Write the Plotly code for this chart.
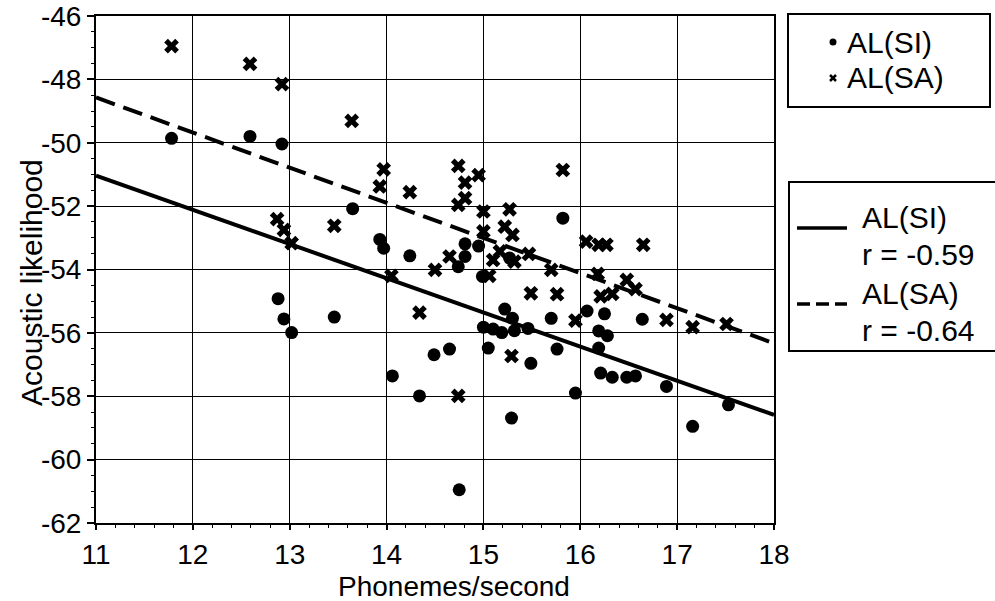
import plotly.graph_objects as go

# Acoustic likelihood vs. speaking rate, two conditions
si_rate = [11.78, 12.59, 12.92, 13.65, 12.88, 12.94, 13.02, 13.46, 13.93, 13.97,
           14.24, 14.81, 14.95, 14.81, 14.74, 15.27, 14.99, 15.82, 15.22, 15.30,
           15.70, 16.07, 15.00, 15.10, 15.19, 15.32, 15.46, 15.05, 15.49, 15.76,
           14.65, 14.49, 14.06, 14.34, 15.95, 15.29, 14.75, 16.25, 16.64, 16.19,
           16.28, 16.19, 16.21, 16.33, 16.48, 16.57, 16.89, 17.53, 17.16]
si_al = [-49.86, -49.80, -50.04, -52.08, -54.92, -55.56, -55.99, -55.50, -53.05, -53.33,
         -53.57, -53.19, -53.26, -53.59, -53.91, -53.64, -54.22, -52.38, -55.25, -55.54,
         -55.54, -55.31, -55.82, -55.88, -55.99, -55.93, -55.86, -56.48, -56.96, -56.51,
         -56.51, -56.69, -57.36, -57.99, -57.90, -58.69, -60.95, -55.40, -55.57, -55.94,
         -56.09, -56.48, -57.27, -57.40, -57.40, -57.36, -57.69, -58.27, -58.95]

sa_rate = [11.78, 12.59, 12.92, 13.64, 12.87, 12.94, 13.02, 13.46, 13.97, 13.93,
           14.24, 14.74, 14.81, 14.95, 14.81, 14.74, 15.00, 15.27, 15.22, 15.30,
           15.00, 15.82, 14.65, 14.50, 14.05, 15.10, 15.17, 15.32, 15.47, 15.70,
           16.06, 15.06, 15.49, 15.76, 14.34, 15.95, 15.29, 14.74, 16.19, 16.27,
           16.65, 16.18, 16.48, 16.57, 16.21, 16.33, 16.89, 17.16, 17.51]
sa_al = [-46.95, -47.51, -48.15, -49.31, -52.41, -52.75, -53.17, -52.62, -50.84, -51.38,
         -51.56, -50.73, -51.26, -51.02, -51.75, -51.96, -52.17, -52.10, -52.65, -52.91,
         -52.80, -50.86, -53.59, -54.01, -54.20, -53.70, -53.43, -53.75, -53.51, -54.01,
         -53.12, -54.20, -54.75, -54.78, -55.36, -55.61, -56.73, -57.99, -53.22, -53.22,
         -53.22, -54.14, -54.33, -54.62, -54.85, -54.77, -55.59, -55.82, -55.72]

# Regression lines (end points over the x range)
fit_rate = [11, 18]
fit_si = [-51.04, -58.59]
fit_sa = [-48.57, -56.33]

# Tick labels (plain hyphen for negatives)
x_ticks = [11, 12, 13, 14, 15, 16, 17, 18]
x_labels = ["11", "12", "13", "14", "15", "16", "17", "18"]
y_ticks = [-62, -60, -58, -56, -54, -52, -50, -48, -46]
y_labels = ["-62", "-60", "-58", "-56", "-54", "-52", "-50", "-48", "-46"]

x_title = "Phonemes/second"
y_title = "Acoustic likelihood"
legend_points = ["AL(SI)", "AL(SA)"]
legend_fits = [("AL(SI)", "r = -0.59"), ("AL(SA)", "r = -0.64")]

FONT = "Liberation Sans, Arial, sans-serif"
W, H = 995, 601
ML, MR, MT, MB = 96, 221, 16, 78
PW, PH = W - ML - MR, H - MT - MB


def px(x):
    return (x - ML) / PW


def py(y):
    return (H - MB - y) / PH


fig = go.Figure()

fig.add_trace(go.Scatter(x=fit_rate, y=fit_si, mode="lines",
                         line=dict(color="black", width=4), showlegend=False))
fig.add_trace(go.Scatter(x=fit_rate, y=fit_sa, mode="lines",
                         line=dict(color="black", width=4, dash="20px,9px"),
                         showlegend=False))
fig.add_trace(go.Scatter(x=si_rate, y=si_al, mode="markers",
                         marker=dict(symbol="circle", size=13, color="black"),
                         showlegend=False))
fig.add_trace(go.Scatter(x=sa_rate, y=sa_al, mode="markers",
                         marker=dict(symbol="x", size=13, color="black"),
                         showlegend=False))

axis_common = dict(
    showline=True, linecolor="black", linewidth=2, mirror=True,
    ticks="outside", tickwidth=1.5, tickcolor="black",
    showgrid=True, gridcolor="black", gridwidth=1.3, zeroline=False,
    automargin=False,
)

fig.update_xaxes(range=[11, 18], tickmode="array", tickvals=x_ticks, ticktext=x_labels,
                 ticklen=5,
                 tickfont=dict(family=FONT, size=28, color="black"),
                 minor=dict(dtick=0.2, tick0=11, ticks="outside", ticklen=3,
                            tickcolor="black", tickwidth=1, showgrid=False),
                 **axis_common)
fig.update_yaxes(range=[-62, -46], tickmode="array", tickvals=y_ticks, ticktext=y_labels,
                 ticklen=7,
                 tickfont=dict(family=FONT, size=28, color="black"),
                 minor=dict(dtick=0.5, tick0=-62, ticks="outside", ticklen=3,
                            tickcolor="black", tickwidth=1, showgrid=False),
                 **axis_common)

shapes = []
text_font = dict(family=FONT, size=30, color="black")
annotations = [
    dict(xref="paper", yref="paper", x=px(454), y=py(586), text=x_title,
         showarrow=False, xanchor="center", yanchor="middle",
         font=dict(family=FONT, size=28, color="black")),
    dict(xref="paper", yref="paper", x=px(31), y=py(283), text=y_title,
         showarrow=False, xanchor="center", yanchor="middle", textangle=-90,
         font=dict(family=FONT, size=30, color="black")),
]

# Marker key box
shapes.append(dict(type="rect", xref="paper", yref="paper",
                   x0=px(788), x1=px(990), y0=py(107), y1=py(14),
                   line=dict(color="black", width=2), fillcolor="white"))
shapes.append(dict(type="circle", xref="paper", yref="paper",
                   x0=px(829.5), x1=px(836.5), y0=py(45.5), y1=py(38.5),
                   line=dict(color="black", width=0), fillcolor="black"))
for (xa, ya, xb, yb) in [(830, 75, 836, 81), (830, 81, 836, 75)]:
    shapes.append(dict(type="line", xref="paper", yref="paper",
                       x0=px(xa), y0=py(ya), x1=px(xb), y1=py(yb),
                       line=dict(color="black", width=2.5)))
for label, yc in zip(legend_points, [42, 78]):
    annotations.append(dict(xref="paper", yref="paper", x=px(845), y=py(yc),
                            text=label, showarrow=False, xanchor="left",
                            yanchor="middle", font=text_font))

# Regression key box
shapes.append(dict(type="rect", xref="paper", yref="paper",
                   x0=px(789), x1=px(1000), y0=py(351), y1=py(182),
                   line=dict(color="black", width=2), fillcolor="white"))
shapes.append(dict(type="line", xref="paper", yref="paper",
                   x0=px(797), x1=px(847), y0=py(228), y1=py(228),
                   line=dict(color="black", width=3.5)))
shapes.append(dict(type="line", xref="paper", yref="paper",
                   x0=px(797), x1=px(847), y0=py(304), y1=py(304),
                   line=dict(color="black", width=3.5, dash="13px,6px")))
for (name, rtxt), (y1, y2) in zip(legend_fits, [(217, 255), (293, 330)]):
    for txt, yc in [(name, y1), (rtxt, y2)]:
        annotations.append(dict(xref="paper", yref="paper", x=px(860), y=py(yc),
                                text=txt, showarrow=False, xanchor="left",
                                yanchor="middle", font=text_font))

fig.update_layout(
    width=W, height=H, autosize=False,
    margin=dict(l=ML, r=MR, t=MT, b=MB),
    paper_bgcolor="white", plot_bgcolor="white",
    shapes=shapes, annotations=annotations,
    showlegend=False,
)

fig.write_html("out.html")
